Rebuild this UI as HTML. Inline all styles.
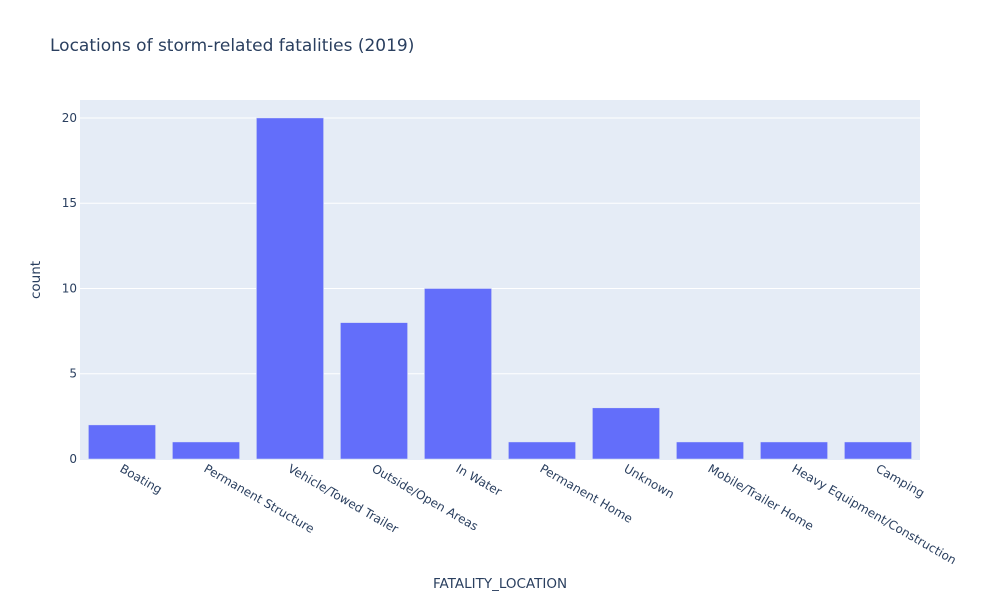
<!DOCTYPE html>
<html><head><meta charset="utf-8"><style>
body{margin:0;background:#fff;font-family:"DejaVu Sans","Liberation Sans",sans-serif}
</style></head><body>
<svg id="chart" width="1000" height="600" xmlns="http://www.w3.org/2000/svg" font-family="'DejaVu Sans','Liberation Sans',sans-serif">
<rect width="1000" height="600" fill="#fff"/>
<text x="50" y="51" font-size="17" fill="#2a3f5f">Locations of storm-related fatalities (2019)</text>
<rect x="80" y="100" width="840" height="360" fill="#e5ecf6"/>
<g id="grid"></g><g id="bars"></g><g id="yticks"></g><g id="xticks"></g>
<text x="500" y="588" font-size="13.5" fill="#2a3f5f" text-anchor="middle">FATALITY_LOCATION</text>
<text transform="translate(40,280) rotate(-90)" font-size="13.5" fill="#2a3f5f" text-anchor="middle">count</text>
</svg>
<script>
const categories=["Boating","Permanent Structure","Vehicle/Towed Trailer","Outside/Open Areas","In Water","Permanent Home","Unknown","Mobile/Trailer Home","Heavy Equipment/Construction","Camping"];
const counts=[2,1,20,8,10,1,3,1,1,1];
const yTicks=[0,5,10,15,20];
const NS="http://www.w3.org/2000/svg";
const L=80,R=920,T=100,B=459;
const yMax=Math.max(...counts)*1.0526;
const y=v=>B-v/yMax*(B-T);
const bw=(R-L)/categories.length;
const x=i=>L+bw*(i+0.5);
function mk(t,a,p){const e=document.createElementNS(NS,t);for(const k in a)e.setAttribute(k,a[k]);document.getElementById(p).appendChild(e);return e;}
yTicks.forEach(t=>{
 if(t>0){const g=mk('line',{x1:L,x2:R,y1:y(t),y2:y(t),stroke:'#fff','stroke-width':1},'grid');
 
 }
 const tx=mk('text',{x:L-3,y:y(t)+4,'font-size':12,fill:'#2a3f5f','text-anchor':'end'},'yticks');
 tx.textContent=t;
 
 
});
categories.forEach((c,i)=>{
 const w=bw*0.8;
 const r=mk('rect',{x:x(i)-w/2,y:y(counts[i]),width:w,height:B-y(counts[i]),fill:'#636efa',stroke:'#e5ecf6','stroke-width':0.5},'bars');
 
 
 const tx=mk('text',{transform:`translate(${x(i)-3},${B+12}) rotate(30)`,'font-size':12,fill:'#2a3f5f'},'xticks');
 tx.textContent=c;
 
 
});
</script>
</body></html>
